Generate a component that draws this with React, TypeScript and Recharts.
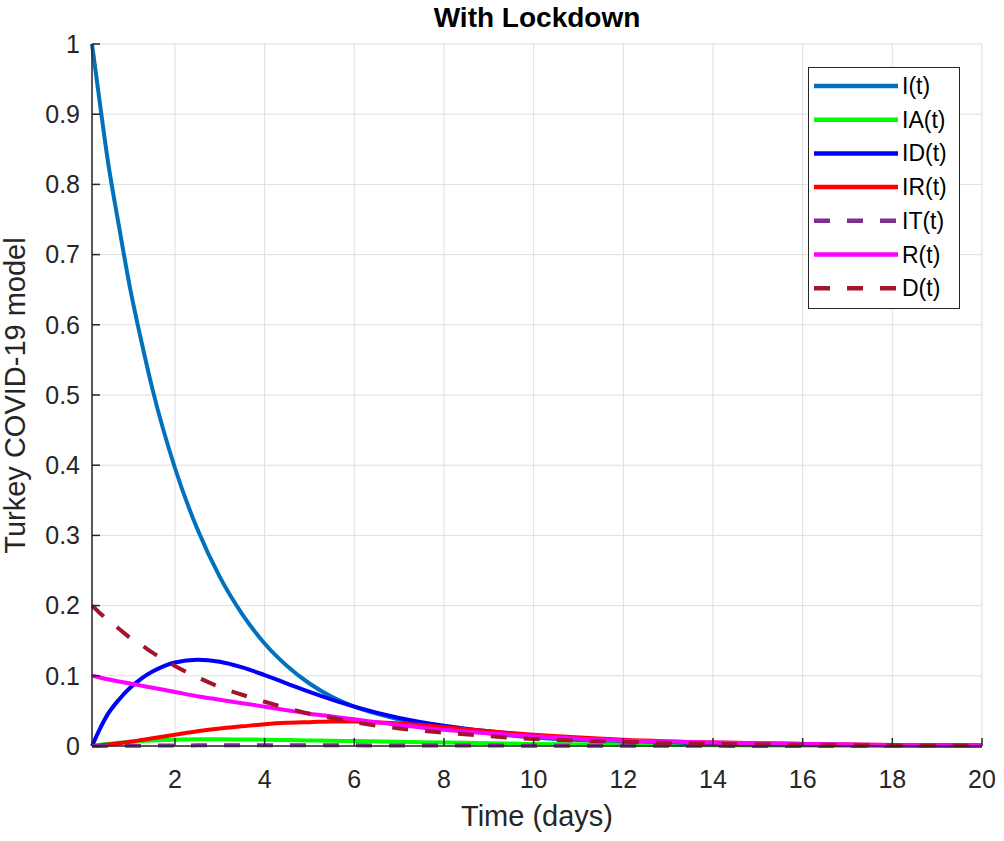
import { CartesianGrid, Line, LineChart, XAxis, YAxis } from "recharts";

// time samples (days) and model curves
const time = [0.15, 0.3, 0.5, 0.75, 1, 1.25, 1.5, 2, 2.5, 3, 3.5, 4, 4.5, 5, 5.5, 6, 7, 8, 9, 10, 12, 14, 16, 18, 20];

const infected = [1.0, 0.928, 0.835, 0.741, 0.652, 0.577, 0.508, 0.396, 0.309, 0.241, 0.188, 0.146, 0.114, 0.089, 0.07, 0.056, 0.038, 0.026, 0.018, 0.012, 0.006, 0.003, 0.0015, 0.0008, 0.0004];
const asymptomatic = [0, 0.0015, 0.003, 0.0045, 0.006, 0.007, 0.008, 0.009, 0.0095, 0.0095, 0.0093, 0.009, 0.0085, 0.008, 0.0075, 0.007, 0.006, 0.005, 0.004, 0.003, 0.002, 0.001, 0.0006, 0.0003, 0.0002];
const diagnosed = [0, 0.021, 0.045, 0.066, 0.083, 0.096, 0.106, 0.119, 0.123, 0.12, 0.112, 0.101, 0.089, 0.077, 0.066, 0.056, 0.04, 0.029, 0.021, 0.015, 0.008, 0.004, 0.002, 0.001, 0.0005];
const recognized = [0, 0.0008, 0.002, 0.004, 0.006, 0.0085, 0.011, 0.016, 0.021, 0.025, 0.028, 0.031, 0.033, 0.034, 0.035, 0.035, 0.032, 0.027, 0.021, 0.016, 0.009, 0.005, 0.003, 0.0015, 0.0008];
const threatened = [0, 0.0001, 0.0002, 0.0003, 0.0004, 0.0005, 0.0006, 0.0008, 0.0009, 0.001, 0.001, 0.001, 0.001, 0.001, 0.0009, 0.0009, 0.0008, 0.0007, 0.0006, 0.0005, 0.0003, 0.0002, 0.0001, 0.0001, 0];
const recovered = [0.1, 0.098, 0.095, 0.092, 0.089, 0.086, 0.083, 0.077, 0.071, 0.066, 0.061, 0.056, 0.051, 0.046, 0.042, 0.038, 0.03, 0.023, 0.018, 0.014, 0.008, 0.005, 0.003, 0.0015, 0.0008];
const deaths = [0.2, 0.191, 0.179, 0.167, 0.154, 0.144, 0.133, 0.114, 0.098, 0.084, 0.073, 0.063, 0.054, 0.046, 0.04, 0.034, 0.025, 0.019, 0.014, 0.01, 0.006, 0.003, 0.0016, 0.0009, 0.0005];

const xTicks = [2, 4, 6, 8, 10, 12, 14, 16, 18, 20];
const yTicks = [0, 0.1, 0.2, 0.3, 0.4, 0.5, 0.6, 0.7, 0.8, 0.9, 1];

const rows = time.map((t, k) => ({
  t,
  I: infected[k],
  IA: asymptomatic[k],
  ID: diagnosed[k],
  IR: recognized[k],
  IT: threatened[k],
  R: recovered[k],
  D: deaths[k],
}));

const series = [
  { key: "I", name: "I(t)", color: "#0072BD", dash: undefined },
  { key: "IA", name: "IA(t)", color: "#00FF00", dash: undefined },
  { key: "ID", name: "ID(t)", color: "#0000FF", dash: undefined },
  { key: "IR", name: "IR(t)", color: "#FF0000", dash: undefined },
  { key: "IT", name: "IT(t)", color: "#7E2F8E", dash: "16 17" },
  { key: "R", name: "R(t)", color: "#FF00FF", dash: undefined },
  { key: "D", name: "D(t)", color: "#A2142F", dash: "16 17" },
];

const font = "'Liberation Sans', Arial, Helvetica, sans-serif";
const axisColor = "#262626";
const tickStyle = { fontSize: 25, fill: axisColor, fontFamily: font };

function LegendBox() {
  return (
    <div
      style={{
        position: "absolute",
        left: 808,
        top: 67,
        width: 150,
        height: 240,
        border: "1.5px solid #262626",
        background: "#fff",
      }}
    >
      <svg width={150} height={240}>
        {series.map((s, i) => {
          const y = 18 + i * 33.7;
          return (
            <g key={s.key}>
              <line
                x1={5}
                x2={89}
                y1={y}
                y2={y}
                stroke={s.color}
                strokeWidth={4.5}
                strokeDasharray={s.dash}
              />
              <text
                x={93}
                y={y}
                dominantBaseline="central"
                fontSize={23}
                fontFamily={font}
                fill="#000"
              >
                {s.name}
              </text>
            </g>
          );
        })}
      </svg>
    </div>
  );
}

export default function App() {
  return (
    <div
      style={{
        position: "absolute",
        left: 0,
        top: 0,
        width: 1004,
        height: 841,
        background: "#fff",
        fontFamily: font,
      }}
    >
      <LineChart
        width={1004}
        height={841}
        data={rows}
        margin={{ top: 44, right: 22, bottom: 0, left: 0 }}
      >
        <CartesianGrid stroke="#dedede" strokeWidth={1} />
        <XAxis
          dataKey="t"
          type="number"
          domain={[0.15, 20]}
          ticks={xTicks}
          height={95}
          stroke={axisColor}
          strokeWidth={1.5}
          tick={tickStyle}
          tickSize={-8}
          tickMargin={32}
        />
        <XAxis
          xAxisId="top"
          dataKey="t"
          type="number"
          orientation="top"
          domain={[0.15, 20]}
          ticks={xTicks}
          height={0}
          stroke={axisColor}
          strokeWidth={1.5}
          tick={false}
          tickSize={-8}
        />
        <YAxis
          type="number"
          domain={[0, 1]}
          ticks={yTicks}
          width={92}
          stroke={axisColor}
          strokeWidth={1.5}
          tick={tickStyle}
          tickSize={-8}
          tickMargin={20}
        />
        <YAxis
          yAxisId="right"
          type="number"
          orientation="right"
          domain={[0, 1]}
          ticks={yTicks}
          width={0}
          stroke={axisColor}
          strokeWidth={1.5}
          tick={false}
          tickSize={-8}
        />
        {series.map((s) => (
          <Line
            key={s.key}
            dataKey={s.key}
            name={s.name}
            type="monotone"
            stroke={s.color}
            strokeWidth={4}
            strokeDasharray={s.dash}
            dot={false}
            activeDot={false}
            isAnimationActive={false}
          />
        ))}
      </LineChart>

      <div
        style={{
          position: "absolute",
          left: 337,
          width: 400,
          top: 4,
          textAlign: "center",
          fontSize: 28,
          lineHeight: "28px",
          fontWeight: "bold",
          color: "#000",
        }}
      >
        With Lockdown
      </div>
      <div
        style={{
          position: "absolute",
          left: 337,
          width: 400,
          top: 802,
          textAlign: "center",
          fontSize: 29,
          lineHeight: "29px",
          color: axisColor,
        }}
      >
        Time (days)
      </div>
      <div
        style={{
          position: "absolute",
          left: 15 - 200,
          width: 400,
          top: 395 - 14.5,
          height: 29,
          textAlign: "center",
          fontSize: 29,
          lineHeight: "29px",
          color: axisColor,
          transform: "rotate(-90deg)",
          whiteSpace: "nowrap",
        }}
      >
        Turkey COVID-19 model
      </div>
      <LegendBox />
    </div>
  );
}
